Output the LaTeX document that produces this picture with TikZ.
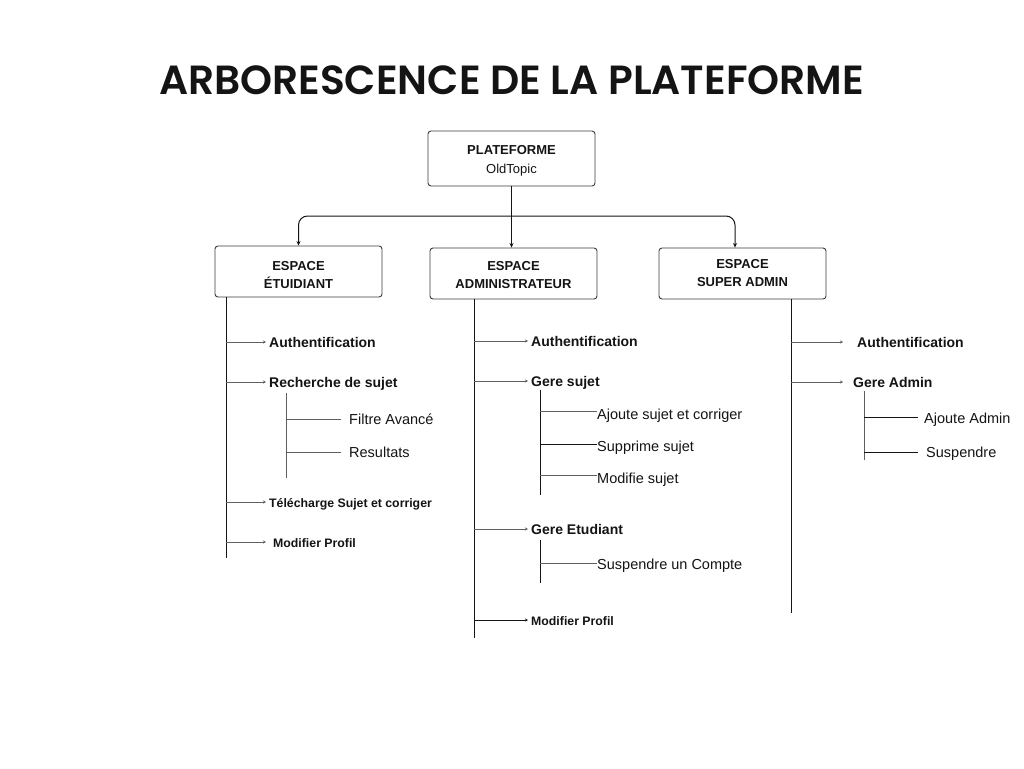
\documentclass[tikz,border=0pt]{standalone}
\usepackage{fontspec}
\setmainfont{Liberation Sans}
\newfontfamily\titlefont{Poppins}[BoldFont={Poppins SemiBold}]
\usetikzlibrary{arrows.meta, positioning}
\definecolor{inkblack}{RGB}{20, 20, 20}
\definecolor{linegray}{RGB}{95, 95, 95}
\definecolor{boxgray}{RGB}{60, 60, 60}

\begin{document}
\begin{tikzpicture}[x=1pt, y=-1pt,
    espace/.style={draw=boxgray, line width=0.9pt, rounded corners=3pt,
      minimum width=167pt, minimum height=51pt, align=center,
      text depth=0pt, font=\bfseries\fontsize{13}{18}\selectfont, text=inkblack},
    item/.style={anchor=west, inner sep=0pt, text height=1.9ex,
      text depth=0pt, text=inkblack},
    mainitem/.style={item, font=\bfseries\fontsize{14}{16}\selectfont},
    smallitem/.style={item, font=\bfseries\fontsize{12.3}{14}\selectfont},
    subitem/.style={item, font=\fontsize{14.5}{16}\selectfont},
    spine/.style={line width=0.9pt, draw=inkblack},
    topline/.style={line width=1pt, draw=inkblack,
      -{Stealth[length=4.5pt, width=4pt]}},
    branch/.style={line width=0.9pt, draw=linegray,
      -{Stealth[length=3pt, width=3pt]}},
    subline/.style={line width=0.9pt, draw=linegray}]
  \fill[white] (0,0) rectangle (1024,768);
  \useasboundingbox (0,0) rectangle (1024,768);

  % --- Title ---
  \node[font=\titlefont\bfseries\fontsize{40.7}{48}\selectfont, text=inkblack]
    (title) at (511.5, 80) {ARBORESCENCE DE LA PLATEFORME};

  % --- Root and spaces ---
  \node[espace, minimum height=55pt, text height=29.6pt,
    font=\fontsize{13}{19}\selectfont]
    (root) at (511.5, 158.5) {\textbf{PLATEFORME}\\OldTopic};
  \node[espace, text height=33.3pt] (etu) at (298.5, 271.5) {ESPACE\\ÉTUIDIANT};
  \node[espace, text height=29.3pt] (adm) at (513.5, 273.5) {ESPACE\\ADMINISTRATEUR};
  \node[espace, text height=25.3pt] (sup) at (742.5, 273.5) {ESPACE\\SUPER ADMIN};

  % Root connectors
  \coordinate (split) at (511.5, 216);
  \draw[topline] (root.south) -- (root.south |- adm.north);
  \draw[topline, rounded corners=9pt] (split) -| (etu.north);
  \draw[topline, rounded corners=9pt] (split) -| ([xshift=-7.5pt]sup.north);

  % --- Espace etudiant ---
  \coordinate (etuEnd) at (226, 558);
  \draw[spine] (etu.south -| etuEnd) -- (etuEnd);
  \node[mainitem] (e1) at (269, 342) {Authentification};
  \node[mainitem] (e2) at (269, 382) {Recherche de sujet};
  \node[smallitem] (e3) at (269, 502) {Télécharge Sujet et corriger};
  \node[smallitem] (e4) at (273, 542) {Modifier Profil};
  \draw[branch] (e1.west -| etuEnd) -- ([xshift=-3pt]e1.west);
  \draw[branch] (e2.west -| etuEnd) -- ([xshift=-3pt]e2.west);
  \draw[branch] (e3.west -| etuEnd) -- ([xshift=-3pt]e3.west);
  \draw[branch] (e4.west -| etuEnd) -- ([xshift=-7pt]e4.west);
  % Recherche de sujet
  \coordinate (e2End) at (286, 478);
  \node[subitem] (e21) at (349, 419) {Filtre Avancé};
  \node[subitem] (e22) at (349, 452) {Resultats};
  \draw[subline] (286, 393) -- (e2End);
  \draw[subline] (e21.west -| e2End) -- ([xshift=-8pt]e21.west);
  \draw[subline] (e22.west -| e2End) -- ([xshift=-8pt]e22.west);

  % --- Espace administrateur ---
  \coordinate (admEnd) at (474, 638);
  \draw[spine] (adm.south -| admEnd) -- (admEnd);
  \node[mainitem] (a1) at (531, 341) {Authentification};
  \node[mainitem] (a2) at (531, 381) {Gere sujet};
  \node[mainitem] (a3) at (531, 529) {Gere Etudiant};
  \node[smallitem] (a4) at (531, 620) {Modifier Profil};
  \draw[branch] (a1.west -| admEnd) -- ([xshift=-3pt]a1.west);
  \draw[branch] (a2.west -| admEnd) -- ([xshift=-3pt]a2.west);
  \draw[branch] (a3.west -| admEnd) -- ([xshift=-3pt]a3.west);
  \draw[branch, draw=inkblack] (a4.west -| admEnd) -- ([xshift=-3pt]a4.west);
  % Gere sujet
  \coordinate (a2End) at (540, 495);
  \node[subitem] (a21) at (597, 414) {Ajoute sujet et corriger};
  \node[subitem] (a22) at (597, 446) {Supprime sujet};
  \node[subitem] (a23) at (597, 478) {Modifie sujet};
  \draw[spine] (540, 390) -- (a2End);
  \draw[subline] ([yshift=3pt]a21.west -| a2End) -- ([yshift=3pt]a21.west);
  \draw[subline, draw=inkblack] ([yshift=2pt]a22.west -| a2End) -- ([yshift=2pt]a22.west);
  \draw[subline] ([yshift=3pt]a23.west -| a2End) -- ([yshift=3pt]a23.west);
  % Gere Etudiant
  \coordinate (a3End) at (540, 583);
  \node[subitem] (a31) at (597, 564) {Suspendre un Compte};
  \draw[spine] (540, 540) -- (a3End);
  \draw[subline] ([yshift=1pt]a31.west -| a3End) -- ([yshift=1pt]a31.west);

  % --- Espace super admin ---
  \coordinate (supEnd) at (791, 613);
  \draw[spine] (sup.south -| supEnd) -- (supEnd);
  \node[mainitem] (s1) at (857, 342) {Authentification};
  \node[mainitem] (s2) at (853, 382) {Gere Admin};
  \draw[branch] (s1.west -| supEnd) -- ([xshift=-14pt]s1.west);
  \draw[branch] (s2.west -| supEnd) -- ([xshift=-10pt]s2.west);
  % Gere Admin
  \coordinate (s2End) at (864, 460);
  \node[subitem] (s21) at (924, 418) {Ajoute Admin};
  \node[subitem] (s22) at (926, 452) {Suspendre};
  \draw[subline] (864, 391) -- (s2End);
  \draw[subline, draw=inkblack] ([yshift=1pt]s21.west -| s2End) -- ([xshift=-6pt, yshift=1pt]s21.west);
  \draw[subline, draw=inkblack] (s22.west -| s2End) -- ([xshift=-8pt]s22.west);
\end{tikzpicture}
\end{document}
